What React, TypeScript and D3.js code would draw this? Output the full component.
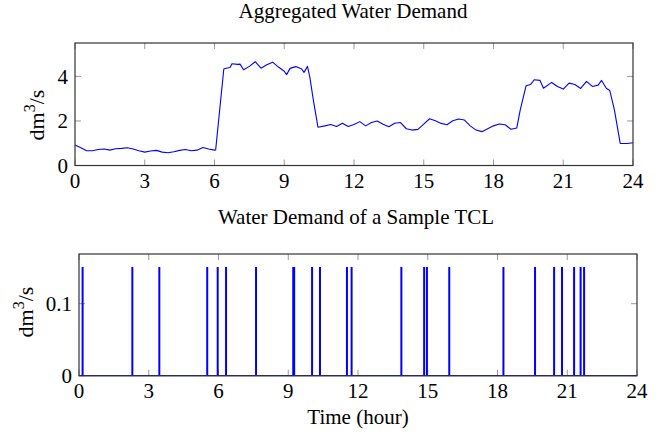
import React, { useEffect, useRef } from 'react';
import * as d3 from 'd3';

// aggregated demand (hour, dm^3/s)
const aggHours = [
  0, 0.25, 0.5, 0.75, 1, 1.25, 1.5, 1.75, 2, 2.25, 2.5, 2.75, 3, 3.25, 3.5, 3.75,
  4, 4.25, 4.5, 4.75, 5, 5.25, 5.5, 5.75, 6, 6.05, 6.4, 6.5, 6.67, 6.75, 7, 7.1, 7.25,
  7.5, 7.75, 8, 8.25, 8.5, 8.75, 9, 9.1, 9.25, 9.5, 9.75, 9.85, 10, 10.1, 10.25, 10.45,
  10.75, 11, 11.25, 11.5, 11.75, 12, 12.25, 12.5, 12.75, 13, 13.25, 13.5, 13.75, 14,
  14.25, 14.5, 14.75, 15, 15.25, 15.5, 15.75, 16, 16.25, 16.5, 16.75, 17, 17.25, 17.5,
  17.75, 18, 18.25, 18.5, 18.75, 19, 19.15, 19.4, 19.6, 19.75, 20, 20.15, 20.5, 20.75,
  21, 21.25, 21.5, 21.75, 22, 22.25, 22.5, 22.65, 22.85, 23, 23.2, 23.45, 23.75, 24
];
const aggValues = [
  0.92, 0.8, 0.66, 0.66, 0.72, 0.74, 0.69, 0.75, 0.77, 0.8, 0.74, 0.66, 0.6, 0.65, 0.68, 0.6,
  0.57, 0.62, 0.68, 0.72, 0.66, 0.69, 0.81, 0.74, 0.69, 0.7, 4.33, 4.37, 4.4, 4.57, 4.54, 4.55, 4.3,
  4.45, 4.66, 4.37, 4.52, 4.64, 4.42, 4.23, 4.08, 4.36, 4.44, 4.33, 4.18, 4.45, 3.97, 2.95, 1.72,
  1.78, 1.84, 1.75, 1.9, 1.75, 1.84, 1.97, 1.78, 1.93, 2.0, 1.85, 1.74, 1.9, 1.93,
  1.65, 1.59, 1.62, 1.86, 2.1, 2.01, 1.89, 1.83, 2.01, 2.09, 2.04, 1.78, 1.59, 1.52,
  1.65, 1.78, 1.86, 1.83, 1.63, 1.68, 2.5, 3.58, 3.64, 3.85, 3.82, 3.47, 3.73, 3.55,
  3.43, 3.7, 3.64, 3.46, 3.78, 3.55, 3.61, 3.82, 3.47, 3.37, 2.5, 0.99, 0.99, 1.02
];

// times (hour) at which the sample TCL draws water
const tclTimes = [
  0.14, 2.28, 3.44, 5.5, 5.95, 6.31, 7.6, 9.2, 9.24, 10.01, 10.35, 11.51, 11.71,
  13.85, 14.83, 14.95, 15.91, 18.24, 19.6, 20.42, 20.76, 21.28, 21.56, 21.71
];
const tclPeak = 0.15;

const xTicks = [0, 3, 6, 9, 12, 15, 18, 21, 24];
const aggYTicks = [0, 2, 4];
const tclYTicks = [0, 0.1];

const W = 660;
const H = 434;
const FONT = '"Liberation Serif", "Times New Roman", serif';
const BLUE = '#0000ff';

const App: React.FC = () => {
  const ref = useRef<SVGSVGElement | null>(null);

  useEffect(() => {
    if (!ref.current) return;
    const svg = d3.select(ref.current);
    svg.selectAll('*').remove();

    const drawFrame = (
      x: d3.ScaleLinear<number, number>,
      y: d3.ScaleLinear<number, number>,
      yTicks: number[],
      tickLen: number
    ) => {
      const [x0, x1] = x.range();
      const [y0, y1] = y.range();
      const g = svg.append('g');
      // grey inside ticks, bottom+top and left+right
      xTicks.forEach(t => {
        g.append('line').attr('x1', x(t)).attr('x2', x(t)).attr('y1', y0).attr('y2', y0 - tickLen)
          .attr('stroke', '#999').attr('stroke-width', 1);
        g.append('line').attr('x1', x(t)).attr('x2', x(t)).attr('y1', y1).attr('y2', y1 + tickLen)
          .attr('stroke', '#999').attr('stroke-width', 1);
        g.append('text').attr('x', x(t)).attr('y', y0 + 22)
          .attr('text-anchor', 'middle').style('font-family', FONT).style('font-size', '21px')
          .text(String(t));
      });
      yTicks.forEach(t => {
        g.append('line').attr('x1', x0).attr('x2', x0 + tickLen).attr('y1', y(t)).attr('y2', y(t))
          .attr('stroke', '#999').attr('stroke-width', 1);
        g.append('line').attr('x1', x1).attr('x2', x1 - tickLen).attr('y1', y(t)).attr('y2', y(t))
          .attr('stroke', '#999').attr('stroke-width', 1);
        g.append('text').attr('x', x0 - 7).attr('y', y(t)).attr('dy', '0.34em')
          .attr('text-anchor', 'end').style('font-family', FONT).style('font-size', '21px')
          .text(String(t));
      });
      return g;
    };

    const drawBox = (x: d3.ScaleLinear<number, number>, y: d3.ScaleLinear<number, number>) => {
      const [x0, x1] = x.range();
      const [y0, y1] = y.range();
      svg.append('rect').attr('x', x0).attr('y', y1).attr('width', x1 - x0).attr('height', y0 - y1)
        .attr('fill', 'none').attr('stroke', '#333').attr('stroke-width', 1.2);
    };

    const yLabel = (cx: number, cy: number) => {
      const t = svg.append('text')
        .attr('transform', `translate(${cx},${cy}) rotate(-90)`)
        .attr('text-anchor', 'middle')
        .style('font-family', FONT).style('font-size', '22px');
      t.append('tspan').text('dm');
      t.append('tspan').attr('dy', -9).style('font-size', '16px').text('3');
      t.append('tspan').attr('dy', 9).text('/s');
    };

    // ---- top panel
    const xA = d3.scaleLinear().domain([0, 24]).range([75, 633]);
    const yA = d3.scaleLinear().domain([0, 5.5]).range([165.5, 43]);
    drawFrame(xA, yA, aggYTicks, 6);

    const aggLine = d3.line<number>()
      .x((_, i) => xA(aggHours[i]))
      .y(d => yA(d));
    svg.append('path').attr('d', aggLine(aggValues) || '')
      .attr('fill', 'none').attr('stroke', BLUE).attr('stroke-width', 1.1)
      .attr('stroke-linejoin', 'round');
    drawBox(xA, yA);

    svg.append('text').attr('x', 353).attr('y', 18).attr('text-anchor', 'middle')
      .style('font-family', FONT).style('font-size', '21px').text('Aggregated Water Demand');
    yLabel(44, 115);

    // ---- bottom panel
    const xB = d3.scaleLinear().domain([0, 24]).range([79, 637]);
    const yB = d3.scaleLinear().domain([0, 0.169]).range([375.7, 254]);
    drawFrame(xB, yB, tclYTicks, 6);

    const pts: [number, number][] = [[0, 0]];
    tclTimes.forEach(t => {
      pts.push([t, 0], [t, tclPeak], [t + 0.03, tclPeak], [t + 0.03, 0]);
    });
    pts.push([24, 0]);
    const tclLine = d3.line<[number, number]>().x(d => xB(d[0])).y(d => yB(d[1]));
    svg.append('path').attr('d', tclLine(pts) || '')
      .attr('fill', 'none').attr('stroke', BLUE).attr('stroke-width', 1.3);
    drawBox(xB, yB);

    svg.append('text').attr('x', 356).attr('y', 224).attr('text-anchor', 'middle')
      .style('font-family', FONT).style('font-size', '21px').text('Water Demand of a Sample TCL');
    yLabel(33, 312);

    svg.append('text').attr('x', 358).attr('y', 424).attr('text-anchor', 'middle')
      .style('font-family', FONT).style('font-size', '21px').text('Time (hour)');
  }, []);

  return (
    <svg ref={ref} width={W} height={H}
      style={{ position: 'absolute', left: 0, top: 0, background: '#fff' }} />
  );
};

export default App;
